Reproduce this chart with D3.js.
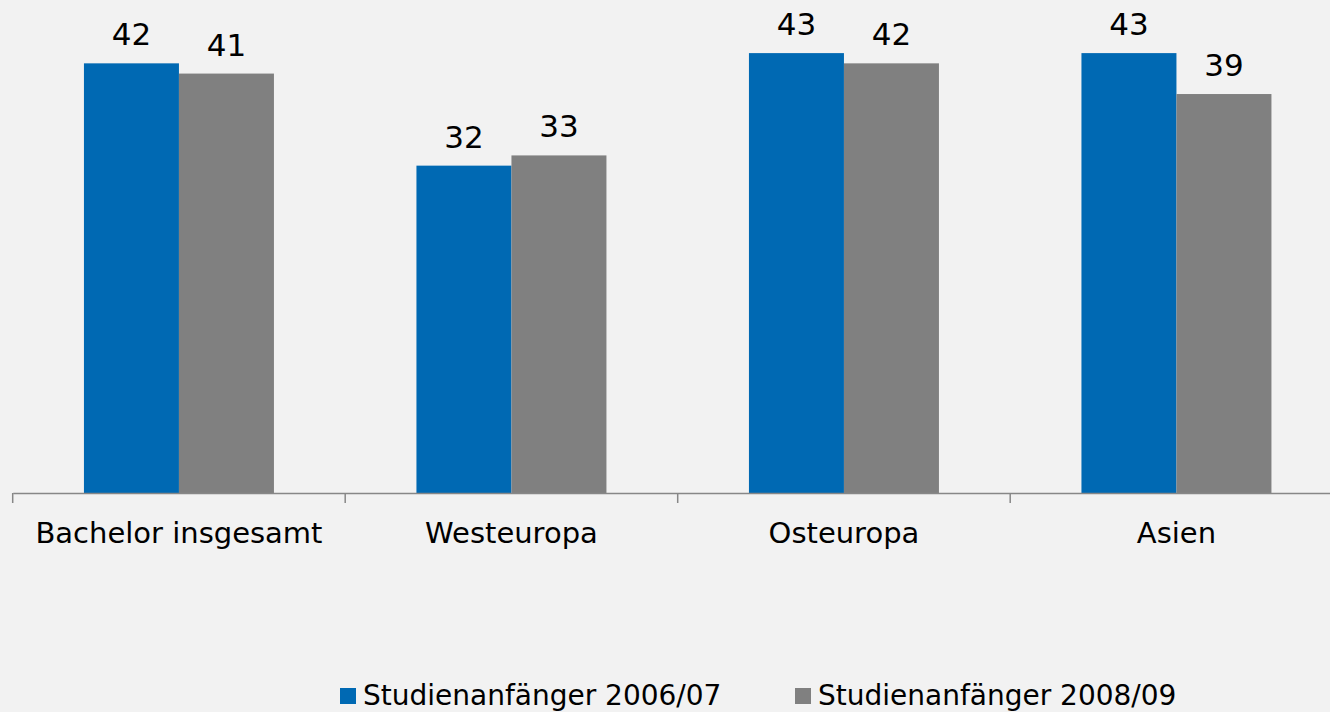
<!DOCTYPE html>
<html>
<head>
<meta charset="utf-8">
<script src="https://cdn.jsdelivr.net/npm/d3@7"></script>
<style>
    body { margin: 0; background: #f2f2f2; }
    text { font-family: "DejaVu Sans", Verdana, sans-serif; fill: #000; }
</style>
</head>
<body>
<div id="chart"></div>
<script>
var categories = ['Bachelor insgesamt', 'Westeuropa', 'Osteuropa', 'Asien'];
var seriesNames = ['Studienanfänger 2006/07', 'Studienanfänger 2008/09'];
var values2006 = [42, 32, 43, 43];
var values2008 = [41, 33, 42, 39];
var colors = ['#0069b3', '#808080'];

var width = 1330, height = 712;

var svg = d3.select('#chart')
    .append('svg')
    .attr('width', width)
    .attr('height', height)
    .style('background-color', '#f2f2f2');

var data = categories.map(function (c, i) {
    return {cat: c, vals: [values2006[i], values2008[i]]};
});

var x0 = d3.scaleBand()
    .domain(categories)
    .range([12.7, 1342.7])
    .padding(0);

var x1 = d3.scaleBand()
    .domain([0, 1])
    .range([0, x0.bandwidth()])
    .paddingInner(0)
    .paddingOuter(0.75);

var y = d3.scaleLinear()
    .domain([0, 48])
    .range([493, 493 - 48 * 10.23]);

// bars
var groups = svg.selectAll('g.group')
    .data(data)
    .enter()
    .append('g')
    .attr('class', 'group')
    .attr('transform', function (d) { return 'translate(' + x0(d.cat) + ',0)'; });

groups.selectAll('rect')
    .data(function (d) { return d.vals; })
    .enter()
    .append('rect')
    .attr('x', function (d, i) { return x1(i); })
    .attr('y', function (d) { return y(d); })
    .attr('width', x1.bandwidth())
    .attr('height', function (d) { return y(0) - y(d); })
    .attr('fill', function (d, i) { return colors[i]; });

// value labels
groups.selectAll('text.val')
    .data(function (d) { return d.vals; })
    .enter()
    .append('text')
    .attr('class', 'val')
    .attr('x', function (d, i) { return x1(i) + x1.bandwidth() / 2; })
    .attr('y', function (d) { return y(d) - 18; })
    .attr('text-anchor', 'middle')
    .style('font-size', '31px')
    .text(function (d) { return d; });

// x axis
var xAxis = d3.axisBottom(x0)
    .tickSize(0)
    .tickSizeOuter(0);

var axis = svg.append('g')
    .attr('transform', 'translate(0,' + y(0) + ')')
    .call(xAxis);

axis.select('.domain')
    .attr('stroke', '#878787')
    .attr('stroke-width', 1.5);

axis.selectAll('text')
    .attr('y', 50)
    .attr('dy', 0)
    .style('font-size', '29px')
    .attr('fill', '#000');

// boundary ticks between categories
svg.append('g')
    .selectAll('line')
    .data(categories)
    .enter()
    .append('line')
    .attr('x1', function (d) { return x0(d); })
    .attr('x2', function (d) { return x0(d); })
    .attr('y1', y(0))
    .attr('y2', y(0) + 10)
    .attr('stroke', '#878787')
    .attr('stroke-width', 1.5);

// legend
var legendX = [340, 795];
var legend = svg.selectAll('g.legend')
    .data(seriesNames)
    .enter()
    .append('g')
    .attr('class', 'legend')
    .attr('transform', function (d, i) { return 'translate(' + legendX[i] + ',688)'; });

legend.append('rect')
    .attr('width', 16)
    .attr('height', 16)
    .attr('fill', function (d, i) { return colors[i]; });

legend.append('text')
    .attr('x', 23)
    .attr('y', 17)
    .style('font-size', '28px')
    .text(function (d) { return d; });
</script>
</body>
</html>
